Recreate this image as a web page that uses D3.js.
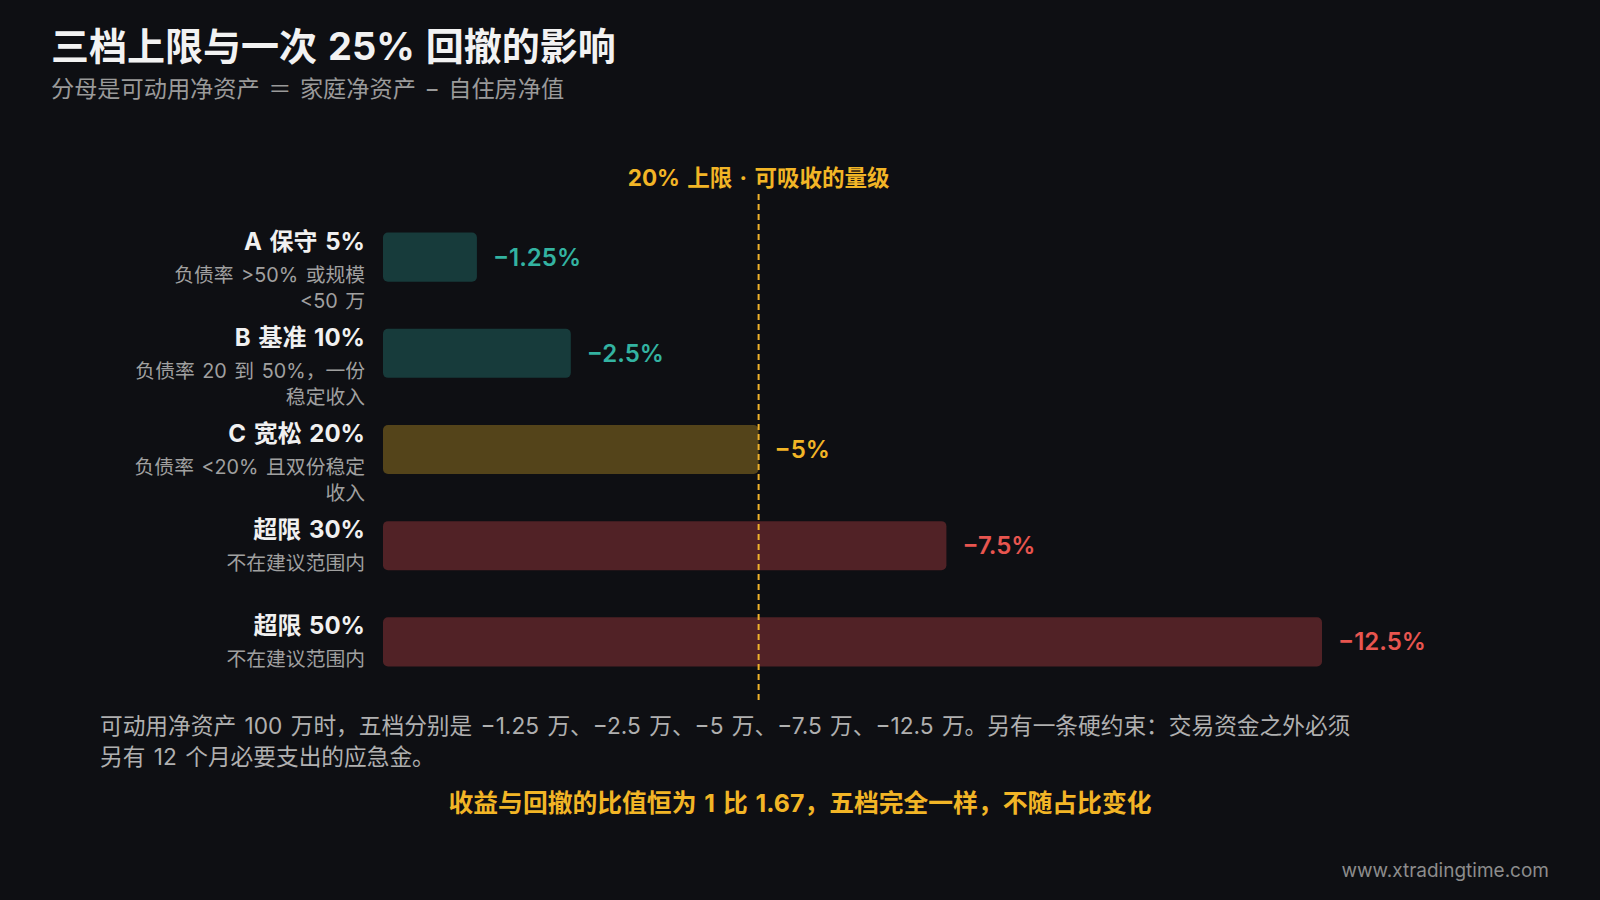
<!DOCTYPE html>
<html>
<head>
  <meta charset="utf-8">
  <style>
    html, body { margin: 0; padding: 0; background: #0e0f13; }
    svg { display: block; font-family: Inter, "Noto Sans CJK SC", sans-serif; }
    svg text { word-spacing: 2px; }
    .title { fill: #f2f2f2; font-size: 38px; font-weight: 700; }
    .subtitle { fill: #9a9a9a; font-size: 23.2px; }
    .tier { fill: #f0f0f0; font-size: 24px; font-weight: 700; }
    .tier-sub { fill: #a0a0a0; font-size: 19.8px; }
    .value { font-size: 24px; font-weight: 600; }
    .note { fill: #b0b0b0; font-size: 22.7px; }
    .highlight { fill: #f2b526; font-size: 24.8px; font-weight: 700; }
    .cap-label { fill: #f2b526; font-size: 22.5px; font-weight: 700; }
    .site { fill: #8c8c8c; font-size: 19px; }
  </style>
</head>
<body>
  <svg width="1600" height="900"></svg>
  <script src="https://d3js.org/d3.v7.min.js"></script>
  <script>
    // tiers, top to bottom
    const tierNames = ["A 保守 5%", "B 基准 10%", "C 宽松 20%", "超限 30%", "超限 50%"];
    const tierSubs = [
      ["负债率 >50% 或规模", "<50 万"],
      ["负债率 20 到 50%，一份", "稳定收入"],
      ["负债率 <20% 且双份稳定", "收入"],
      ["不在建议范围内"],
      ["不在建议范围内"]
    ];
    const drawdowns = [1.25, 2.5, 5, 7.5, 12.5];   // loss on net assets after a 25% drawdown
    const tierKinds = ["ok", "ok", "cap", "over", "over"];
    const capValue = 5;   // 20% cap -> -5%

    const noteLines = [
      "可动用净资产 100 万时，五档分别是 −1.25 万、−2.5 万、−5 万、−7.5 万、−12.5 万。另有一条硬约束：交易资金之外必须",
      "另有 12 个月必要支出的应急金。"
    ];

    const barFill = { ok: "#173b3b", cap: "#54441a", over: "#512226" };
    const textFill = { ok: "#33b3a1", cap: "#f2b526", over: "#e8554f" };

    const svg = d3.select("svg");

    svg.append("text").attr("class", "title")
      .attr("x", 51).attr("y", 60)
      .text("三档上限与一次 25% 回撤的影响");
    svg.append("text").attr("class", "subtitle")
      .attr("x", 51).attr("y", 97)
      .text("分母是可动用净资产 ＝ 家庭净资产 − 自住房净值");

    const x = d3.scaleLinear().domain([0, 12.5]).range([383, 1322]);
    const y = d3.scaleBand().domain(tierNames)
      .range([232.6, 666.4]).paddingInner(0.49).paddingOuter(0);

    // bars
    svg.append("g").selectAll("rect")
      .data(tierNames)
      .join("rect")
      .attr("x", x(0))
      .attr("y", d => y(d))
      .attr("width", (d, i) => x(drawdowns[i]) - x(0))
      .attr("height", y.bandwidth())
      .attr("rx", 5)
      .attr("fill", (d, i) => barFill[tierKinds[i]]);

    // value labels
    svg.append("g").selectAll("text")
      .data(tierNames)
      .join("text")
      .attr("class", "value")
      .attr("x", (d, i) => x(drawdowns[i]) + 16)
      .attr("y", d => y(d) + y.bandwidth() / 2)
      .attr("dominant-baseline", "central")
      .attr("fill", (d, i) => textFill[tierKinds[i]])
      .text((d, i) => "−" + drawdowns[i] + "%");

    // left labels
    const lab = svg.append("g").selectAll("g")
      .data(tierNames)
      .join("g")
      .attr("transform", d => `translate(365,${y(d)})`);
    lab.append("text").attr("class", "tier")
      .attr("text-anchor", "end")
      .attr("y", 8.5)
      .attr("dominant-baseline", "central")
      .text(d => d);
    lab.each(function(d, i) {
      d3.select(this).selectAll("text.tier-sub")
        .data(tierSubs[i])
        .join("text")
        .attr("class", "tier-sub")
        .attr("text-anchor", "end")
        .attr("y", (s, j) => 42 + j * 26.5)
        .attr("dominant-baseline", "central")
        .text(s => s);
    });

    // cap reference line
    svg.append("line")
      .attr("x1", x(capValue)).attr("x2", x(capValue))
      .attr("y1", 194).attr("y2", 700)
      .attr("stroke", "#eeb12a")
      .attr("stroke-width", 2)
      .attr("stroke-dasharray", "6,4");
    svg.append("text").attr("class", "cap-label")
      .attr("x", x(capValue)).attr("y", 177)
      .attr("text-anchor", "middle")
      .attr("dominant-baseline", "central")
      .text("20% 上限 · 可吸收的量级");

    // notes
    svg.append("g").selectAll("text")
      .data(noteLines)
      .join("text")
      .attr("class", "note")
      .attr("x", 100)
      .attr("y", (d, i) => 725 + i * 31.5)
      .attr("dominant-baseline", "central")
      .text(d => d);

    svg.append("text").attr("class", "highlight")
      .attr("x", 800).attr("y", 803)
      .attr("text-anchor", "middle")
      .attr("dominant-baseline", "central")
      .text("收益与回撤的比值恒为 1 比 1.67，五档完全一样，不随占比变化");

    svg.append("text").attr("class", "site")
      .attr("x", 1549).attr("y", 870)
      .attr("text-anchor", "end")
      .attr("dominant-baseline", "central")
      .text("www.xtradingtime.com");
  </script>
</body>
</html>
